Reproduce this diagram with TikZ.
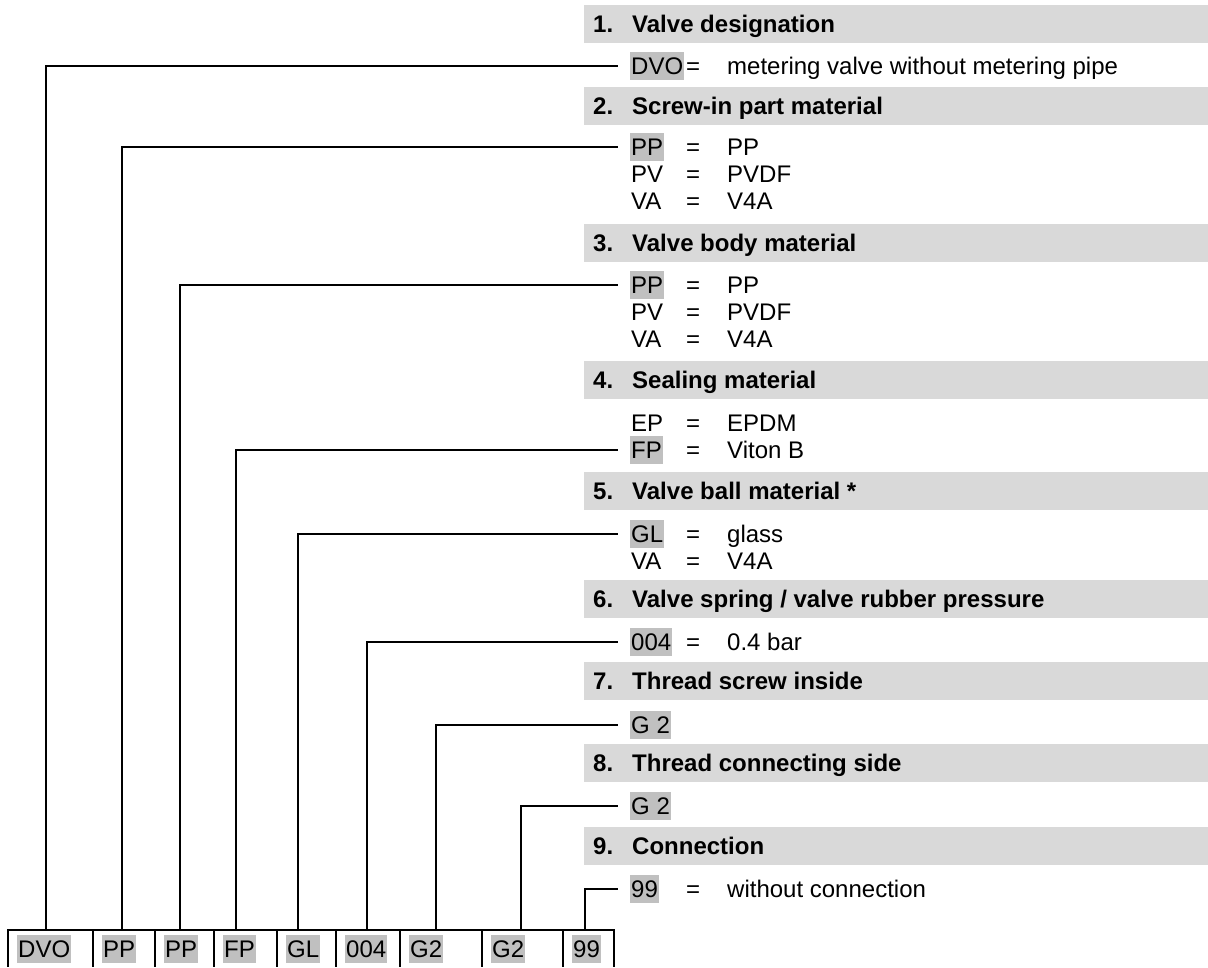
\documentclass[tikz,border=0pt]{standalone}
\usepackage{fontspec}
\setmainfont{Liberation Sans}
\usepackage{tikz}
\usetikzlibrary{positioning}
\usepackage{xcolor}
\definecolor{hdgray}{RGB}{217,217,217}
\definecolor{hlgray}{RGB}{192,192,192}
\tikzstyle{txt} = [inner sep=0pt, text height=22pt, text depth=6pt, anchor=west, font=\fontsize{24}{27}\selectfont]
\tikzstyle{hdtxt} = [txt, font=\fontsize{24}{27}\selectfont\bfseries]
\tikzstyle{code} = [txt, fill=hlgray, inner xsep=1pt]
\tikzstyle{leader} = [line width=1.1pt, color=black]
\tikzstyle{boxline} = [line width=2pt, color=black]

\begin{document}
\begin{tikzpicture}[x=1pt, y=-1pt]
\useasboundingbox (0,0) rectangle (1208,967);

% Section headers
\foreach \hy/\num/\htext [count=\i] in {5/1/{Valve designation}, 87/2/{Screw-in part material},
    224/3/{Valve body material}, 361/4/{Sealing material}, 472/5/{Valve ball material *},
    580/6/{Valve spring / valve rubber pressure}, 662/7/{Thread screw inside},
    744/8/{Thread connecting side}, 827/9/{Connection}} {
  \fill[hdgray] (584,\hy) rectangle (1208,\hy+38);
  \node[hdtxt] (n\i) at (593,\hy+19) {\num.};
  \node[hdtxt] (h\i) at (632,\hy+19) {\htext};
}

% Selected codes
\node[code] (c1) at (630,66) {DVO};
\node[code] (c2) at (630,147) {PP};
\node[code] (c3) at (630,285) {PP};
\node[code] (c4) at (630,450) {FP};
\node[code] (c5) at (630,534) {GL};
\node[code] (c6) at (630,642) {004};
\node[code] (c7) at (630,725) {G 2};
\node[code] (c8) at (630,806) {G 2};
\node[code] (c9) at (630,889) {99};

% Other codes
\foreach \ry/\cd in {174/PV, 201/VA, 312/PV, 339/VA, 423/EP, 561/VA}
  \node[txt] at (631,\ry) {\cd};

% Equal signs and meanings
\foreach \ry/\val in {66/{metering valve without metering pipe}, 147/PP, 174/PVDF, 201/V4A,
    285/PP, 312/PVDF, 339/V4A, 423/EPDM, 450/{Viton B}, 534/glass, 561/V4A,
    642/{0.4 bar}, 889/{without connection}} {
  \node[txt] at (686,\ry) {=};
  \node[txt] at (727,\ry) {\val};
}

% Type code boxes
\draw[boxline] (7,930) -- (615,930);
\foreach \sx/\lb [count=\i] in {8/DVO, 93/PP, 155/PP, 214/FP, 277/GL, 336/004, 400/G2, 482/G2, 563/99} {
  \draw[boxline] (\sx,930) -- (\sx,967);
  \node[code] (b\i) at (\sx+9,949) {\lb};
}
\draw[boxline] (614,930) -- (614,967);

% Leaders
\foreach \lx [count=\i] in {46,122,180,236,298,367,436,521,585} {
  \coordinate (t\i) at (\lx,930);
  \draw[leader] (t\i) |- ([xshift=-12pt]c\i.west);
}
\end{tikzpicture}
\end{document}
